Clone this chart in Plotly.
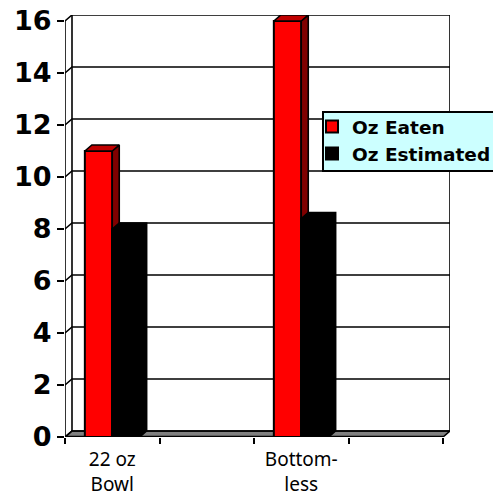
import plotly.graph_objects as go

categories = ["22 oz<br>Bowl", "Bottom-<br>less"]
slots = [0.5, 2.5]
oz_eaten = [11, 16]
oz_estimated = [8, 8.4]
y_ticks = [0, 2, 4, 6, 8, 10, 12, 14, 16]
x_ticks = [0, 1, 2, 3, 4]

W, H = 493, 498
DX = 7 / 94.5     # depth of the 3D look in axis units
DY = 6 / 26
BW = 0.29
XMAX = x_ticks[-1]
YMAX = y_ticks[-1]
LINE = dict(color="#000000", width=1.6)

shapes = []
# floor
shapes.append(dict(type="path", layer="below", xref="x", yref="y",
                   path=f"M0,0 L{DX},{DY} L{XMAX+DX},{DY} L{XMAX},0 Z",
                   fillcolor="#808080", line=dict(color="#000000", width=1.6)))
# gridlines on left wall + back wall
for v in y_ticks:
    shapes.append(dict(type="path", layer="below", xref="x", yref="y",
                       path=f"M0,{v} L{DX},{v+DY} L{XMAX+DX},{v+DY}",
                       line=LINE))
# wall verticals
for x0, y0, x1, y1 in [(0, 0, 0, YMAX), (DX, DY, DX, YMAX + DY),
                       (XMAX + DX, DY, XMAX + DX, YMAX + DY)]:
    shapes.append(dict(type="line", layer="below", xref="x", yref="y",
                       x0=x0, y0=y0, x1=x1, y1=y1, line=LINE))
# front edge of floor
shapes.append(dict(type="line", layer="below", xref="x", yref="y",
                   x0=0, y0=0, x1=XMAX, y1=0, line=dict(color="#000000", width=2.4)))
# legend box
shapes.append(dict(type="rect", xref="paper", yref="paper", layer="above",
                   x0=(323 - 65) / 385, x1=(520 - 65) / 385,
                   y0=(437 - 171) / 422, y1=(437 - 112) / 422,
                   fillcolor="#CCFFFF", line=dict(color="#000000", width=2)))

fig = go.Figure()
fig.add_trace(go.Bar(name="Oz Eaten", x=slots, y=oz_eaten, width=BW, offset=-BW,
                     marker=dict(color="#FF0000", line=dict(color="#000000", width=2)),
                     legendgroup="a"))
fig.add_trace(go.Bar(name="Oz Estimated", x=slots, y=oz_estimated, width=BW, offset=0,
                     marker=dict(color="#000000", line=dict(color="#000000", width=2)),
                     legendgroup="b"))


def poly(xs, ys, fill):
    fig.add_trace(go.Scatter(x=xs, y=ys, mode="lines", fill="toself", fillcolor=fill,
                             line=dict(color="#000000", width=1.6),
                             hoverinfo="skip", showlegend=False))


for s, r in zip(slots, oz_eaten):
    poly([s, s + DX, s + DX, s, s], [0, DY, r + DY, r, 0], "#800000")
    poly([s - BW, s - BW + DX, s + DX, s, s - BW], [r, r + DY, r + DY, r, r], "#C00000")
for s, b in zip(slots, oz_estimated):
    poly([s, s + BW, s + BW + DX, s + BW + DX, s + DX, s, s],
         [0, 0, DY, b + DY, b + DY, b, 0], "#000000")

fig.update_layout(
    width=W, height=H,
    margin=dict(l=65, r=43, t=15, b=61, autoexpand=False),
    paper_bgcolor="#FFFFFF", plot_bgcolor="#FFFFFF",
    barmode="overlay", shapes=shapes,
    showlegend=True,
    legend=dict(x=(319 - 65) / 385, y=(437 - 108) / 422, xanchor="left", yanchor="top",
                bgcolor="rgba(0,0,0,0)", borderwidth=0, tracegroupgap=3, indentation=-7,
                font=dict(family="DejaVu Sans", size=18.5, color="#000000", weight="bold"),
                traceorder="normal", itemclick=False, itemdoubleclick=False),
    xaxis=dict(range=[0, XMAX + DX], tickmode="array", tickvals=slots, ticktext=categories,
               ticks="", showgrid=False, zeroline=False, showline=False,
               tickfont=dict(family="Noto Sans", size=19, color="#000000"),
               ticklabelstandoff=9, ticklabeloverflow="allow",
               minor=dict(tickmode="array", tickvals=x_ticks, ticks="outside", ticklen=6,
                          tickwidth=1.6, tickcolor="#000000", showgrid=False)),
    yaxis=dict(range=[0, YMAX + DY], tickmode="array", tickvals=y_ticks,
               ticks="outside", ticklen=7, tickwidth=1.6, tickcolor="#000000",
               ticklabelstandoff=0, ticklabeloverflow="allow",
               showgrid=False, zeroline=False, showline=False,
               tickfont=dict(family="DejaVu Sans", size=27, color="#000000", weight="bold")),
)

fig.write_html("out.html", config=dict(displayModeBar=False),
               post_script="document.body.style.margin='0';")
